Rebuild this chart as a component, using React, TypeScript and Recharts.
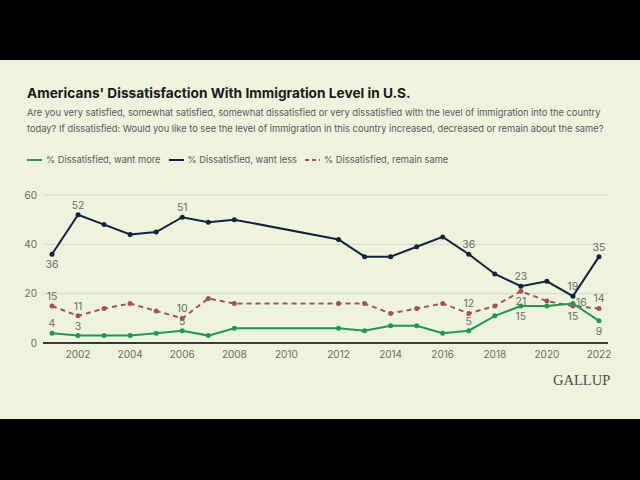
import React from "react";
import { LineChart, Line, XAxis, YAxis, CartesianGrid } from "recharts";

const years = [2001, 2002, 2003, 2004, 2005, 2006, 2007, 2008, 2012, 2013, 2014, 2015, 2016, 2017, 2018, 2019, 2020, 2021, 2022];
const wantMore = [4, 3, 3, 3, 4, 5, 3, 6, 6, 5, 7, 7, 4, 5, 11, 15, 15, 16, 9];
const wantLess = [36, 52, 48, 44, 45, 51, 49, 50, 42, 35, 35, 39, 43, 36, 28, 23, 25, 19, 35];
const remainSame = [15, 11, 14, 16, 13, 10, 18, 16, 16, 16, 12, 14, 16, 12, 15, 21, 17, 15, 14];

const xTicks = [2002, 2004, 2006, 2008, 2010, 2012, 2014, 2016, 2018, 2020, 2022];
const yTicks = [0, 20, 40, 60];

// which years get a value label, and where it sits
const moreLabels: Record<number, string> = { 2001: "above", 2002: "above", 2006: "above", 2017: "above", 2019: "below", 2021: "right", 2022: "below" };
const lessLabels: Record<number, string> = { 2001: "below", 2002: "above", 2006: "above", 2017: "above", 2019: "above", 2021: "above", 2022: "above" };
const sameLabels: Record<number, string> = { 2001: "above", 2002: "above", 2006: "above", 2017: "above", 2019: "below", 2021: "below", 2022: "above" };

const data = years.map((year, i) => ({
  year,
  more: wantMore[i],
  less: wantLess[i],
  same: remainSame[i],
}));

const GREEN = "#1e9a4e";
const NAVY = "#10233f";
const ROSE = "#a3525c";
const BG = "#edf3dd";
const FONT = "Inter, 'Noto Sans', sans-serif";

const makeLabel = (placement: Record<number, string>) => (props: any) => {
  const { x, y, value, index } = props;
  const pos = placement[years[index]];
  if (!pos) return null;
  let tx = x;
  let ty = y;
  let anchor: any = "middle";
  if (pos === "above") ty = y - 6;
  else if (pos === "below") ty = y + 14;
  else if (pos === "right") {
    tx = x + 3;
    ty = y + 2;
    anchor = "start";
  }
  return (
    <text key={index} x={tx} y={ty} textAnchor={anchor} fontSize={10.5} fill="#6b6b6b" fontFamily={FONT}>
      {value}
    </text>
  );
};

function LegendItem({ color, dashed, label }: { color: string; dashed?: boolean; label: string }) {
  return (
    <span style={{ display: "flex", alignItems: "center", marginRight: 8 }}>
      <svg width={15} height={4} style={{ marginRight: 4 }}>
        <line x1={0} y1={2} x2={15} y2={2} stroke={color} strokeWidth={2} strokeDasharray={dashed ? "4 3" : undefined} />
      </svg>
      {label}
    </span>
  );
}

export default function App() {
  return (
    <div style={{ position: "fixed", top: 0, left: 0, width: 640, height: 480, background: "#000", fontFamily: FONT }}>
      <div style={{ position: "absolute", top: 60, left: 0, width: 640, height: 359, background: BG }}>
        <div style={{ position: "absolute", left: 27, top: 25, fontSize: 13.7, fontWeight: 700, color: "#1a1a1a", whiteSpace: "nowrap" }}>
          Americans' Dissatisfaction With Immigration Level in U.S.
        </div>
        <div style={{ position: "absolute", left: 27, top: 45, fontSize: 9.3, lineHeight: "16px", color: "#5a5a5a", whiteSpace: "nowrap" }}>
          Are you very satisfied, somewhat satisfied, somewhat dissatisfied or very dissatisfied with the level of immigration into the country
          <br />
          today? If dissatisfied: Would you like to see the level of immigration in this country increased, decreased or remain about the same?
        </div>
        <div style={{ position: "absolute", left: 27, top: 94, display: "flex", fontSize: 9.3, color: "#5a5a5a", whiteSpace: "nowrap" }}>
          <LegendItem color={GREEN} label="% Dissatisfied, want more" />
          <LegendItem color={NAVY} label="% Dissatisfied, want less" />
          <LegendItem color={ROSE} dashed label="% Dissatisfied, remain same" />
        </div>
        <div style={{ position: "absolute", left: 553, top: 312, fontFamily: "'Liberation Serif', 'DejaVu Serif', serif", fontSize: 14.5, color: "#4a4a4a" }}>
          GALLUP
        </div>
      </div>
      <div style={{ position: "absolute", top: 180, left: 0 }}>
        <LineChart width={640} height={200} data={data} margin={{ top: 15, right: 32, bottom: 7, left: 0 }}>
          <CartesianGrid vertical={false} stroke="#d4dbc6" strokeWidth={1} />
          <XAxis
            dataKey="year"
            type="number"
            domain={[2001, 2022]}
            ticks={xTicks}
            padding={{ left: 9, right: 9 }}
            axisLine={{ stroke: "#000", strokeWidth: 1.5 }}
            tickLine={false}
            tickSize={0}
            tickMargin={8}
            height={30}
            tick={{ fill: "#6b6b6b", fontSize: 10, fontFamily: FONT }}
          />
          <YAxis
            domain={[0, 60]}
            ticks={yTicks}
            axisLine={false}
            tickLine={false}
            tickSize={0}
            tickMargin={6}
            width={43}
            tick={{ fill: "#6b6b6b", fontSize: 10, fontFamily: FONT }}
          />
          <Line
            dataKey="less"
            stroke={NAVY}
            strokeWidth={2}
            dot={{ r: 2.5, fill: NAVY, stroke: NAVY, strokeWidth: 0 }}
            label={makeLabel(lessLabels)}
            isAnimationActive={false}
          />
          <Line
            dataKey="same"
            stroke={ROSE}
            strokeWidth={2}
            strokeDasharray="5 4"
            dot={{ r: 2.5, fill: ROSE, stroke: ROSE, strokeWidth: 0 }}
            label={makeLabel(sameLabels)}
            isAnimationActive={false}
          />
          <Line
            dataKey="more"
            stroke={GREEN}
            strokeWidth={2}
            dot={{ r: 2.5, fill: GREEN, stroke: GREEN, strokeWidth: 0 }}
            label={makeLabel(moreLabels)}
            isAnimationActive={false}
          />
        </LineChart>
      </div>
    </div>
  );
}
